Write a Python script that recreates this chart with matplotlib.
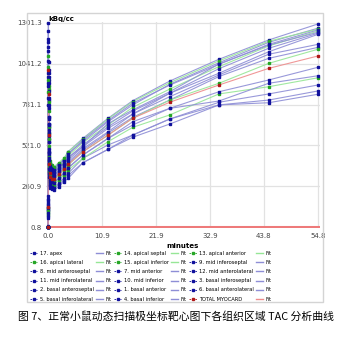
import matplotlib
matplotlib.use("Agg")
import matplotlib.pyplot as plt
from matplotlib.lines import Line2D
from matplotlib.patches import Rectangle

# frame mid-times (minutes)
frame_times = [0.02, 0.05, 0.08, 0.12, 0.17, 0.25, 0.35, 0.5, 0.75,
               1.2, 2.2, 3.2, 4.1, 7.1, 12.2, 17.2, 24.7, 34.7, 44.8, 54.8]

# activity per segment (kBq/cc)
apex_17 = [0.8, 180, 1301, 1050, 700, 480, 410, 400, 390,
           380, 405, 430, 481, 566, 694, 806, 931, 1070, 1193, 1295]
mid_anteroseptal_8 = [2, 150, 1180, 980, 660, 460, 395, 385, 378,
                      372, 400, 425, 470, 545, 672, 779, 910, 1048, 1178, 1268]
apical_septal_14 = [1, 120, 1090, 900, 640, 450, 420, 405, 395,
                    385, 411, 439, 481, 560, 690, 800, 920, 1060, 1185, 1262]
mid_inferoseptal_9 = [3, 200, 1250, 1000, 690, 470, 390, 375, 370,
                      364, 396, 420, 465, 555, 680, 790, 905, 1038, 1165, 1257]
apical_lateral_16 = [1, 90, 1020, 880, 600, 430, 400, 385, 370,
                     360, 390, 410, 455, 540, 651, 764, 880, 1023, 1155, 1250]
mid_anterior_7 = [4, 160, 1150, 940, 650, 440, 375, 360, 355,
                  350, 380, 405, 445, 513, 660, 747, 863, 1040, 1160, 1242]
mid_anterolateral_12 = [2, 130, 1120, 920, 620, 430, 370, 355, 350,
                        345, 375, 400, 440, 525, 640, 740, 853, 1010, 1140, 1236]
mid_inferolateral_11 = [5, 170, 1200, 960, 640, 420, 360, 345, 340,
                        332, 364, 396, 428, 513, 630, 721, 853, 981, 1118, 1229]
mid_inferior_10 = [1, 110, 980, 820, 580, 400, 350, 338, 330,
                   325, 355, 385, 415, 500, 608, 721, 831, 970, 1102, 1165]
basal_anteroseptal_2 = [3, 140, 1060, 870, 600, 410, 345, 330, 322,
                        315, 345, 375, 405, 490, 600, 700, 810, 960, 1076, 1146]
apical_anterior_13 = [2, 100, 940, 800, 560, 390, 340, 320, 310,
                      300, 332, 364, 396, 481, 587, 694, 810, 917, 1044, 1134]
total_myocard = [2, 130, 1000, 850, 590, 400, 345, 320, 308,
                 305, 336, 368, 400, 481, 587, 694, 796, 906, 1012, 1091]
basal_anterior_1 = [4, 120, 960, 810, 560, 380, 320, 300, 292,
                    285, 311, 343, 380, 460, 566, 672, 757, 863, 938, 1019]
basal_inferoseptal_3 = [1, 90, 900, 760, 540, 370, 310, 295, 288,
                        280, 311, 343, 375, 460, 566, 651, 757, 804, 917, 965]
apical_inferior_15 = [2, 80, 860, 740, 520, 360, 300, 282, 275,
                      268, 300, 330, 364, 439, 545, 636, 715, 849, 895, 952]
basal_inferolateral_5 = [3, 110, 920, 780, 540, 350, 290, 270, 262,
                         258, 279, 311, 343, 439, 524, 587, 689, 796, 849, 906]
basal_inferior_4 = [1, 70, 820, 700, 500, 340, 280, 262, 255,
                    250, 270, 300, 330, 411, 496, 587, 689, 779, 810, 868]
basal_anterolateral_6 = [2, 60, 780, 660, 480, 320, 270, 250, 242,
                         237, 258, 290, 311, 411, 496, 573, 657, 779, 793, 847]

x_ticks = [0.0, 10.9, 21.9, 32.9, 43.8, 54.8]
y_ticks = [0.8, 260.9, 521.0, 781.1, 1041.2, 1301.3]

# (label, values, colour group) in legend order, column by column
series = [
    ("17. apex", apex_17, "b"),
    ("16. apical lateral", apical_lateral_16, "g"),
    ("8. mid anteroseptal", mid_anteroseptal_8, "b"),
    ("11. mid inferolateral", mid_inferolateral_11, "b"),
    ("2. basal anteroseptal", basal_anteroseptal_2, "b"),
    ("5. basal inferolateral", basal_inferolateral_5, "b"),
    ("14. apical septal", apical_septal_14, "g"),
    ("15. apical inferior", apical_inferior_15, "g"),
    ("7. mid anterior", mid_anterior_7, "b"),
    ("10. mid inferior", mid_inferior_10, "b"),
    ("1. basal anterior", basal_anterior_1, "b"),
    ("4. basal inferior", basal_inferior_4, "b"),
    ("13. apical anterior", apical_anterior_13, "g"),
    ("9. mid inferoseptal", mid_inferoseptal_9, "b"),
    ("12. mid anterolateral", mid_anterolateral_12, "b"),
    ("3. basal inferoseptal", basal_inferoseptal_3, "b"),
    ("6. basal anterolateral", basal_anterolateral_6, "b"),
    ("TOTAL MYOCARD", total_myocard, "r"),
]

marker_col = {"b": "#10109c", "g": "#26a626", "r": "#b01818"}
fit_col = {"b": "#8e8ed6", "g": "#96e696", "r": "#ee8c8c"}

plt.rcParams['font.family'] = ['DejaVu Sans']

fig = plt.figure(figsize=(3.52, 3.37), dpi=100)
fig.patch.set_facecolor("white")

# outer frame
fig.patches.append(Rectangle((27 / 352, 1 - 302 / 337), 296 / 352, 289 / 337,
                             transform=fig.transFigure, fill=False,
                             edgecolor="#d4d4d4", lw=1.0))

W, H = 352, 337
ax = fig.add_axes([46 / W, 1 - 228.4 / H, 274 / W, 206.8 / H])
ax.set_xlim(-0.4, 55.2)
ax.set_ylim(-8, 1310)
for s in ax.spines.values():
    s.set_visible(False)
ax.set_xticks(x_ticks)
ax.set_yticks(y_ticks)
ax.set_xticklabels([f"{v:.1f}" for v in x_ticks])
ax.set_yticklabels([f"{v:.1f}" for v in y_ticks])
ax.tick_params(length=0, labelsize=5, colors="#444444", pad=3)
ax.grid(True, color="#e2e2e2", lw=0.9)
ax.set_axisbelow(True)

# baseline along the time axis
ax.plot([0, 54.8], [0.8, 0.8], color="#ee7a7a", lw=2.2, zorder=1)

for label, vals, grp in series:
    ax.plot(frame_times, vals, color=fit_col[grp], lw=0.8, alpha=0.9, zorder=2)
for label, vals, grp in series:
    ax.plot(frame_times, vals, ls="none", marker="s", ms=1.7,
            color=marker_col[grp], mec=marker_col[grp], zorder=3, clip_on=False)

fig.text(48 / W, 1 - 19 / H, "kBq/cc", fontsize=5, fontweight="bold",
         ha="left", va="center")
fig.text(183 / W, 1 - 246 / H, "minutes", fontsize=5, fontweight="bold",
         ha="center", va="center")

# legend: data marker column followed by its Fit column
handles, labels = [], []
for c in range(3):
    group = series[c * 6:(c + 1) * 6]
    for label, vals, grp in group:
        handles.append(Line2D([], [], color=marker_col[grp], lw=0.6,
                              ls=(0, (2, 1.5)), marker="s", ms=1.7))
        labels.append(label)
    for label, vals, grp in group:
        handles.append(Line2D([], [], color=fit_col[grp], lw=1.0))
        labels.append("Fit")

fig.legend(handles, labels, loc="upper left", ncol=6,
           bbox_to_anchor=(30 / W, 1 - 251 / H), frameon=False,
           fontsize=3.7, handlelength=1.4, handletextpad=0.45,
           columnspacing=0.5, labelspacing=0.8, borderpad=0,
           borderaxespad=0)

fig.text(0.5, 1 - 316 / H,
         "图 7、正常小鼠动态扫描极坐标靶心图下各组织区域 TAC 分析曲线",
         fontsize=7.8, family=["Noto Sans CJK SC", "DejaVu Sans"],
         ha="center", va="center")

fig.savefig("out.png", dpi=100)
